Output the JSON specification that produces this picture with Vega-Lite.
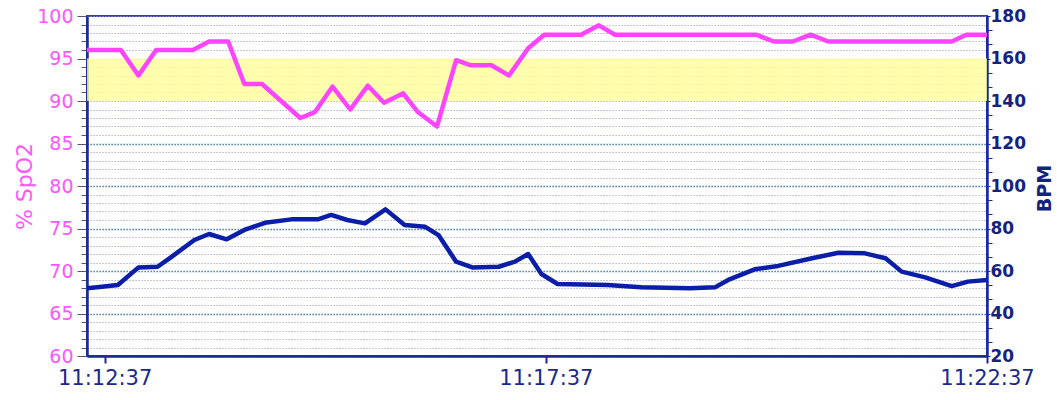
{
  "$schema": "https://vega.github.io/schema/vega-lite/v6.json",
  "width": 900,
  "height": 340,
  "autosize": {"type": "none"},
  "padding": {"left": 87, "top": 16, "right": 70, "bottom": 44},
  "background": "white",
  "config": {"view": {"stroke": "#2f3fa8", "strokeWidth": 2}, "font": "DejaVu Sans"},
  "datasets": {
    "spo2": [
      {"t": "2024-01-01T11:12:25", "v": 96},
      {"t": "2024-01-01T11:12:48", "v": 96},
      {"t": "2024-01-01T11:13:00", "v": 93},
      {"t": "2024-01-01T11:13:12", "v": 96},
      {"t": "2024-01-01T11:13:37", "v": 96},
      {"t": "2024-01-01T11:13:48", "v": 97},
      {"t": "2024-01-01T11:14:01", "v": 97},
      {"t": "2024-01-01T11:14:12", "v": 92},
      {"t": "2024-01-01T11:14:24", "v": 92},
      {"t": "2024-01-01T11:14:37", "v": 90},
      {"t": "2024-01-01T11:14:50", "v": 88},
      {"t": "2024-01-01T11:15:00", "v": 88.7},
      {"t": "2024-01-01T11:15:12", "v": 91.7},
      {"t": "2024-01-01T11:15:24", "v": 89},
      {"t": "2024-01-01T11:15:36", "v": 91.8},
      {"t": "2024-01-01T11:15:47", "v": 89.8},
      {"t": "2024-01-01T11:16:00", "v": 90.9},
      {"t": "2024-01-01T11:16:10", "v": 88.7},
      {"t": "2024-01-01T11:16:23", "v": 87},
      {"t": "2024-01-01T11:16:36", "v": 94.8},
      {"t": "2024-01-01T11:16:46", "v": 94.2},
      {"t": "2024-01-01T11:17:00", "v": 94.2},
      {"t": "2024-01-01T11:17:12", "v": 93},
      {"t": "2024-01-01T11:17:25", "v": 96.2},
      {"t": "2024-01-01T11:17:36", "v": 97.8},
      {"t": "2024-01-01T11:18:01", "v": 97.8},
      {"t": "2024-01-01T11:18:13", "v": 98.9},
      {"t": "2024-01-01T11:18:24", "v": 97.8},
      {"t": "2024-01-01T11:20:00", "v": 97.8},
      {"t": "2024-01-01T11:20:12", "v": 97},
      {"t": "2024-01-01T11:20:25", "v": 97},
      {"t": "2024-01-01T11:20:37", "v": 97.8},
      {"t": "2024-01-01T11:20:49", "v": 97},
      {"t": "2024-01-01T11:22:13", "v": 97},
      {"t": "2024-01-01T11:22:23", "v": 97.8},
      {"t": "2024-01-01T11:22:37", "v": 97.8}
    ],
    "bpm": [
      {"t": "2024-01-01T11:12:25", "v": 51.9},
      {"t": "2024-01-01T11:12:35", "v": 52.6},
      {"t": "2024-01-01T11:12:46", "v": 53.4},
      {"t": "2024-01-01T11:13:00", "v": 61.7},
      {"t": "2024-01-01T11:13:13", "v": 62},
      {"t": "2024-01-01T11:13:22", "v": 66.4},
      {"t": "2024-01-01T11:13:38", "v": 74.6},
      {"t": "2024-01-01T11:13:48", "v": 77.4},
      {"t": "2024-01-01T11:14:00", "v": 74.9},
      {"t": "2024-01-01T11:14:12", "v": 79.3},
      {"t": "2024-01-01T11:14:26", "v": 82.7},
      {"t": "2024-01-01T11:14:44", "v": 84.3},
      {"t": "2024-01-01T11:15:02", "v": 84.3},
      {"t": "2024-01-01T11:15:11", "v": 86.4},
      {"t": "2024-01-01T11:15:22", "v": 84},
      {"t": "2024-01-01T11:15:34", "v": 82.4},
      {"t": "2024-01-01T11:15:48", "v": 89},
      {"t": "2024-01-01T11:16:01", "v": 81.6},
      {"t": "2024-01-01T11:16:15", "v": 80.8},
      {"t": "2024-01-01T11:16:24", "v": 76.9},
      {"t": "2024-01-01T11:16:36", "v": 64.4},
      {"t": "2024-01-01T11:16:47", "v": 61.7},
      {"t": "2024-01-01T11:17:05", "v": 62},
      {"t": "2024-01-01T11:17:16", "v": 64.4},
      {"t": "2024-01-01T11:17:25", "v": 68},
      {"t": "2024-01-01T11:17:34", "v": 58.6},
      {"t": "2024-01-01T11:17:45", "v": 53.9},
      {"t": "2024-01-01T11:18:19", "v": 53.4},
      {"t": "2024-01-01T11:18:42", "v": 52.3},
      {"t": "2024-01-01T11:19:15", "v": 51.9},
      {"t": "2024-01-01T11:19:32", "v": 52.3},
      {"t": "2024-01-01T11:19:41", "v": 55.8},
      {"t": "2024-01-01T11:19:59", "v": 60.8},
      {"t": "2024-01-01T11:20:15", "v": 62.4},
      {"t": "2024-01-01T11:20:38", "v": 66},
      {"t": "2024-01-01T11:20:56", "v": 68.6},
      {"t": "2024-01-01T11:21:14", "v": 68.3},
      {"t": "2024-01-01T11:21:28", "v": 66},
      {"t": "2024-01-01T11:21:39", "v": 59.7},
      {"t": "2024-01-01T11:21:55", "v": 57},
      {"t": "2024-01-01T11:22:13", "v": 52.9},
      {"t": "2024-01-01T11:22:24", "v": 55},
      {"t": "2024-01-01T11:22:37", "v": 55.8}
    ]
  },
  "layer": [
    {
      "data": {"name": "spo2"},
      "mark": {"type": "line", "strokeWidth": 0, "opacity": 0},
      "encoding": {
        "x": {
          "field": "t", "type": "temporal",
          "scale": {"domain": [
            {"year": 2024, "month": 1, "date": 1, "hours": 11, "minutes": 12, "seconds": 25},
            {"year": 2024, "month": 1, "date": 1, "hours": 11, "minutes": 22, "seconds": 37}
          ]},
          "axis": {
            "values": [
              {"year": 2024, "month": 1, "date": 1, "hours": 11, "minutes": 12, "seconds": 37},
              {"year": 2024, "month": 1, "date": 1, "hours": 11, "minutes": 17, "seconds": 37},
              {"year": 2024, "month": 1, "date": 1, "hours": 11, "minutes": 22, "seconds": 37}
            ],
            "format": "%H:%M:%S",
            "grid": false,
            "title": null,
            "domainColor": "#1a2a99", "domainWidth": 2.5,
            "tickColor": "#1a2a99", "tickSize": 7, "tickWidth": 2,
            "labelColor": "#1a2a8a", "labelFont": "DejaVu Sans", "labelFontSize": 21,
            "labelPadding": 4, "labelOverlap": false, "labelFlush": false
          }
        },
        "y": {
          "field": "v", "type": "quantitative",
          "scale": {"domain": [60, 100], "nice": false, "zero": false},
          "axis": {
            "orient": "left",
            "values": [60,61,62,63,64,65,66,67,68,69,70,71,72,73,74,75,76,77,78,79,80,81,82,83,84,85,86,87,88,89,90,91,92,93,94,95,96,97,98,99,100],
            "labelExpr": "datum.value % 5 === 0 ? datum.label : ''",
            "labelOverlap": false,
            "labelColor": "#ff55ff", "labelFont": "DejaVu Sans", "labelFontSize": 19,
            "labelPadding": 4,
            "domainColor": "#1a2a99", "domainWidth": 2.5,
            "tickColor": "#555577", "tickWidth": 1,
            "tickSize": {"condition": {"test": "datum.value % 5 === 0", "value": 10}, "value": 6},
            "grid": true,
            "gridDash": [1.2, 1.8],
            "gridColor": {"condition": {"test": "datum.value % 5 === 0 && datum.value < 90", "value": "#1a5a92"}, "value": "#a4a4c0"},
            "gridWidth": {"condition": {"test": "datum.value % 5 === 0 && datum.value < 90", "value": 1.6}, "value": 1.1},
            "title": "% SpO2",
            "titleColor": "#ff55ff", "titleFont": "DejaVu Sans", "titleFontSize": 22, "titleFontWeight": "normal",
            "titleAngle": -90, "titleAlign": "center", "titleBaseline": "middle",
            "titleX": -63, "titleY": 170
          }
        }
      }
    },
    {
      "data": {"values": [{"lo": 90, "hi": 95}]},
      "mark": {"type": "rect", "color": "#ffff99", "opacity": 0.8},
      "encoding": {
        "x": {"value": 0},
        "x2": {"value": "width"},
        "y": {"field": "lo", "type": "quantitative", "scale": {"domain": [60, 100], "nice": false, "zero": false}, "axis": null},
        "y2": {"field": "hi"}
      }
    },
    {
      "data": {"name": "spo2"},
      "mark": {"type": "line", "color": "#ff44ff", "strokeWidth": 4.5, "strokeJoin": "round"},
      "encoding": {
        "x": {"field": "t", "type": "temporal"},
        "y": {"field": "v", "type": "quantitative", "scale": {"domain": [60, 100], "nice": false, "zero": false}, "axis": null}
      }
    },
    {
      "data": {"name": "bpm"},
      "mark": {"type": "line", "color": "#0a1ea8", "strokeWidth": 4.5, "strokeJoin": "round"},
      "encoding": {
        "x": {"field": "t", "type": "temporal"},
        "y": {
          "field": "v", "type": "quantitative",
          "scale": {"domain": [20, 180], "nice": false, "zero": false},
          "axis": {
            "orient": "right",
            "values": [20,26.667,33.333,40,46.667,53.333,60,66.667,73.333,80,86.667,93.333,100,106.667,113.333,120,126.667,133.333,140,146.667,153.333,160,166.667,173.333,180],
            "labelExpr": "datum.value % 20 === 0 ? datum.label : ''",
            "labelOverlap": false,
            "labelColor": "#13237f", "labelFont": "DejaVu Sans", "labelFontSize": 17, "labelFontWeight": "bold",
            "labelPadding": 0,
            "domainColor": "#1a2a99", "domainWidth": 2.5,
            "tickColor": "#1a2a99", "tickWidth": 1,
            "tickSize": {"condition": {"test": "datum.value % 20 === 0", "value": 3}, "value": 5},
            "grid": false,
            "title": "BPM",
            "titleColor": "#13237f", "titleFont": "DejaVu Sans", "titleFontSize": 19, "titleFontWeight": "bold",
            "titleAngle": -90, "titleAlign": "center", "titleBaseline": "middle",
            "titleX": 57, "titleY": 172
          }
        }
      }
    }
  ],
  "resolve": {"scale": {"y": "independent"}, "axis": {"y": "independent"}}
}
